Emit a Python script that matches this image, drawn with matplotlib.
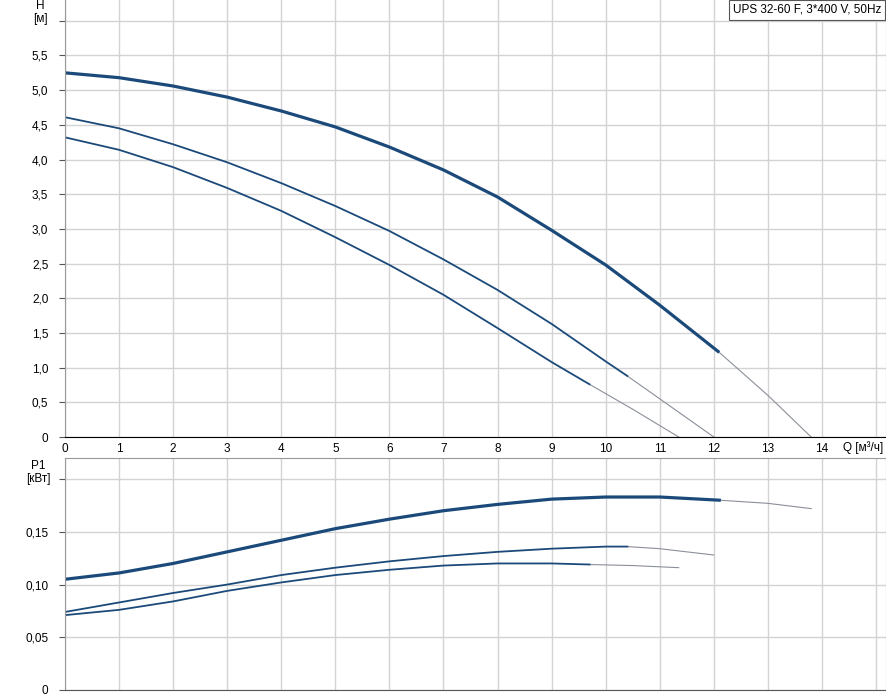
import matplotlib.pyplot as plt
from matplotlib.ticker import FuncFormatter

# pump curves (Q in m3/h)
q_h1 = [0, 1, 2, 3, 4, 5, 6, 7, 8, 9, 10, 11, 12.1]
h1 = [5.25, 5.18, 5.06, 4.90, 4.70, 4.47, 4.18, 3.85, 3.46, 2.98, 2.48, 1.90, 1.22]
q_h1_ext = [12.1, 13.0, 13.8]
h1_ext = [1.22, 0.60, 0.0]

q_h2 = [0, 1, 2, 3, 4, 5, 6, 7, 8, 9, 10, 10.4]
h2 = [4.61, 4.45, 4.22, 3.96, 3.66, 3.33, 2.97, 2.56, 2.12, 1.63, 1.09, 0.88]
q_h2_ext = [10.4, 11.0, 12.0]
h2_ext = [0.88, 0.55, 0.0]

q_h3 = [0, 1, 2, 3, 4, 5, 6, 7, 8, 9, 9.7]
h3 = [4.32, 4.14, 3.89, 3.59, 3.26, 2.88, 2.48, 2.05, 1.57, 1.08, 0.76]
q_h3_ext = [9.7, 10.5, 11.35]
h3_ext = [0.76, 0.40, 0.0]

q_p1 = [0, 1, 2, 3, 4, 5, 6, 7, 8, 9, 10, 11, 12.1]
p1 = [0.105, 0.111, 0.120, 0.131, 0.142, 0.153, 0.162, 0.170, 0.176, 0.181, 0.183, 0.183, 0.180]
q_p1_ext = [12.1, 13.0, 13.8]
p1_ext = [0.180, 0.177, 0.172]

q_p2 = [0, 1, 2, 3, 4, 5, 6, 7, 8, 9, 10, 10.4]
p2 = [0.074, 0.083, 0.092, 0.100, 0.109, 0.116, 0.122, 0.127, 0.131, 0.134, 0.136, 0.136]
q_p2_ext = [10.4, 11.0, 12.0]
p2_ext = [0.136, 0.134, 0.128]

q_p3 = [0, 1, 2, 3, 4, 5, 6, 7, 8, 9, 9.7]
p3 = [0.071, 0.076, 0.084, 0.094, 0.102, 0.109, 0.114, 0.118, 0.120, 0.120, 0.119]
q_p3_ext = [9.7, 10.5, 11.35]
p3_ext = [0.119, 0.118, 0.116]

legend_text = "UPS 32-60 F, 3*400 V, 50Hz"

BLUE = '#1b4a7a'
GREY = '#8a8f99'
GRID = '#d3d3d3'

plt.rcParams['font.family'] = 'Liberation Sans'
plt.rcParams['font.size'] = 8.5

fig = plt.figure(figsize=(8.87, 7.0), dpi=100)
W, H = 887.0, 700.0
x0, x1 = 65, 886
ax1 = fig.add_axes([x0 / W, 1 - 437 / H, (x1 - x0) / W, 437 / H])
ax2 = fig.add_axes([x0 / W, 1 - 690 / H, (x1 - x0) / W, (690 - 458) / H])

xmax = (x1 - x0) / 54.07


def fmt_h(v, pos):
    if v > 5.9:
        return ''
    if abs(v) < 1e-9:
        return '0'
    return ('%.1f' % v).replace('.', ',')


def fmt_p(v, pos):
    if v > 0.19:
        return ''
    if abs(v) < 1e-9:
        return '0'
    return ('%.2f' % v).replace('.', ',')


def style(ax):
    ax.set_xlim(0, xmax)
    ax.set_xticks(range(0, 16))
    ax.grid(True, color=GRID, lw=1)
    ax.set_axisbelow(True)
    for s in ax.spines.values():
        s.set_color('#999999')
    ax.tick_params(axis='y', length=4, color='#555555', pad=8, labelsize=8.5)
    ax.tick_params(axis='x', length=0, pad=4, labelsize=8.5)


style(ax1)
ax1.set_ylim(0, 6.3)
ax1.set_yticks([i * 0.5 for i in range(13)])
ax1.yaxis.set_major_formatter(FuncFormatter(fmt_h))
ax1.set_xticklabels([str(i) for i in range(15)] + [''])
ax1.spines['bottom'].set_color('black')
ax1.spines['top'].set_visible(False)

ax1.plot(q_h1_ext, h1_ext, color=GREY, lw=0.8)
ax1.plot(q_h2_ext, h2_ext, color=GREY, lw=0.8)
ax1.plot(q_h3_ext, h3_ext, color=GREY, lw=0.8)
ax1.plot(q_h1, h1, color=BLUE, lw=2.3, solid_capstyle='butt')
ax1.plot(q_h2, h2, color=BLUE, lw=1.3)
ax1.plot(q_h3, h3, color=BLUE, lw=1.3)

style(ax2)
ax2.set_ylim(0, 0.22)
ax2.set_yticks([0, 0.05, 0.10, 0.15, 0.20])
ax2.yaxis.set_major_formatter(FuncFormatter(fmt_p))
ax2.set_xticklabels([])
ax2.spines['bottom'].set_color('#555555')

ax2.plot(q_p1_ext, p1_ext, color=GREY, lw=0.8)
ax2.plot(q_p2_ext, p2_ext, color=GREY, lw=0.8)
ax2.plot(q_p3_ext, p3_ext, color=GREY, lw=0.8)
ax2.plot(q_p1, p1, color=BLUE, lw=2.3)
ax2.plot(q_p2, p2, color=BLUE, lw=1.3)
ax2.plot(q_p3, p3, color=BLUE, lw=1.3)

# axis titles as in the reference
fig.text(40 / W, 1 - 6 / H, 'H', ha='center', va='center', fontsize=8.5)
fig.text(40 / W, 1 - 19 / H, '[м]', ha='center', va='center', fontsize=8.5)
fig.text(38 / W, 1 - 466 / H, 'P1', ha='center', va='center', fontsize=8.5)
fig.text(38 / W, 1 - 479 / H, '[кВт]', ha='center', va='center', fontsize=8.5)
fig.text(843 / W, 1 - 448 / H, 'Q [м³/ч]', ha='left', va='center', fontsize=8.5)

fig.text(733 / W, 1 - 10 / H, legend_text, ha='left', va='center', fontsize=8.5,
         bbox=dict(boxstyle='square,pad=0.3', fc='white', ec='#555555', lw=0.8))

fig.savefig('out.png', dpi=100)
